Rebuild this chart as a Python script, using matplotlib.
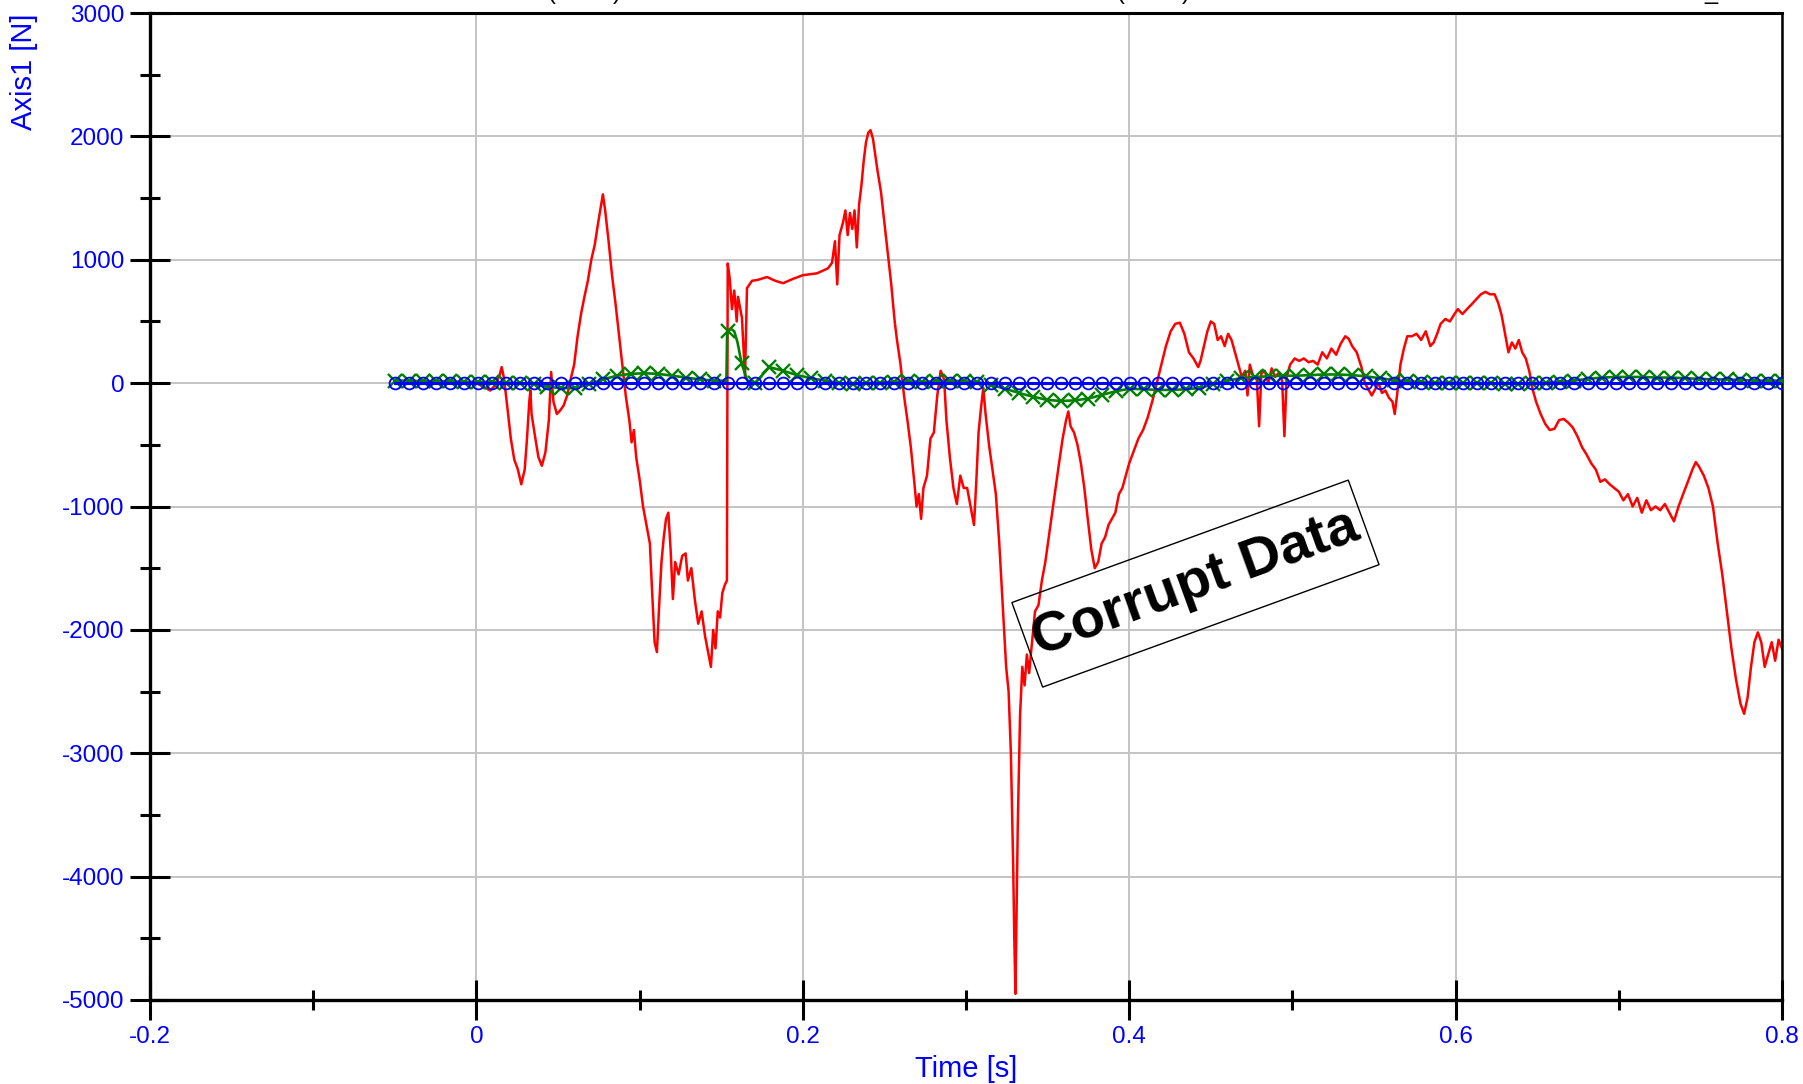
import matplotlib
matplotlib.use("Agg")
import matplotlib.pyplot as plt
from matplotlib.ticker import FixedLocator, FuncFormatter
from matplotlib.patches import Rectangle
from matplotlib.transforms import Affine2D

plt.rcParams['font.family'] = ['Liberation Sans', 'DejaVu Sans']
plt.rcParams['axes.unicode_minus'] = False

# ---------------- data ----------------
red_t = [0.0000, 0.0028, 0.0056, 0.0085, 0.0113, 0.0141, 0.0155, 0.0169, 0.0190, 0.0211,
         0.0232, 0.0254, 0.0275, 0.0296, 0.0310, 0.0324, 0.0331, 0.0338, 0.0359, 0.0380,
         0.0401, 0.0423, 0.0444, 0.0458, 0.0472, 0.0493, 0.0514, 0.0535, 0.0556, 0.0577,
         0.0599, 0.0620, 0.0641, 0.0662, 0.0683, 0.0704, 0.0725, 0.0746, 0.0761, 0.0775,
         0.0789, 0.0810, 0.0831, 0.0852, 0.0873, 0.0894, 0.0915, 0.0937, 0.0951, 0.0965,
         0.0979, 0.1000, 0.1021, 0.1042, 0.1063, 0.1077, 0.1092, 0.1106, 0.1120, 0.1134,
         0.1148, 0.1162, 0.1176, 0.1190, 0.1204, 0.1218, 0.1239, 0.1261, 0.1282, 0.1296,
         0.1317, 0.1338, 0.1359, 0.1380, 0.1401, 0.1423, 0.1437, 0.1451, 0.1465, 0.1479,
         0.1493, 0.1507, 0.1521, 0.1535, 0.1540, 0.1552, 0.1566, 0.1580, 0.1595, 0.1603,
         0.1627, 0.1646, 0.1658, 0.1689, 0.1719, 0.1781, 0.1830, 0.1879, 0.1940, 0.2001,
         0.2087, 0.2154, 0.2179, 0.2197, 0.2211, 0.2225, 0.2246, 0.2261, 0.2275, 0.2289,
         0.2303, 0.2317, 0.2331, 0.2345, 0.2359, 0.2373, 0.2387, 0.2401, 0.2415, 0.2430,
         0.2444, 0.2458, 0.2479, 0.2500, 0.2521, 0.2542, 0.2563, 0.2577, 0.2599, 0.2620,
         0.2641, 0.2662, 0.2683, 0.2697, 0.2711, 0.2725, 0.2739, 0.2761, 0.2782, 0.2803,
         0.2824, 0.2845, 0.2866, 0.2880, 0.2901, 0.2923, 0.2944, 0.2965, 0.2986, 0.3007,
         0.3028, 0.3049, 0.3063, 0.3077, 0.3092, 0.3106, 0.3120, 0.3141, 0.3162, 0.3183,
         0.3204, 0.3225, 0.3246, 0.3261, 0.3275, 0.3289, 0.3296, 0.3303, 0.3310, 0.3317,
         0.3331, 0.3345, 0.3359, 0.3373, 0.3387, 0.3401, 0.3423, 0.3444, 0.3465, 0.3486,
         0.3507, 0.3528, 0.3549, 0.3570, 0.3592, 0.3613, 0.3627, 0.3641, 0.3662, 0.3683,
         0.3704, 0.3725, 0.3746, 0.3768, 0.3789, 0.3810, 0.3831, 0.3852, 0.3873, 0.3894,
         0.3915, 0.3937, 0.3958, 0.3979, 0.4000, 0.4028, 0.4056, 0.4085, 0.4113, 0.4141,
         0.4169, 0.4197, 0.4225, 0.4254, 0.4282, 0.4310, 0.4338, 0.4366, 0.4394, 0.4423,
         0.4437, 0.4458, 0.4479, 0.4500, 0.4521, 0.4542, 0.4563, 0.4585, 0.4606, 0.4627,
         0.4648, 0.4669, 0.4690, 0.4711, 0.4725, 0.4739, 0.4761, 0.4782, 0.4796, 0.4810,
         0.4831, 0.4852, 0.4873, 0.4894, 0.4915, 0.4937, 0.4951, 0.4965, 0.4986, 0.5014,
         0.5042, 0.5070, 0.5099, 0.5127, 0.5155, 0.5183, 0.5211, 0.5239, 0.5268, 0.5296,
         0.5324, 0.5345, 0.5366, 0.5394, 0.5423, 0.5444, 0.5465, 0.5486, 0.5507, 0.5528,
         0.5549, 0.5570, 0.5592, 0.5613, 0.5627, 0.5641, 0.5662, 0.5683, 0.5704, 0.5732,
         0.5761, 0.5789, 0.5817, 0.5845, 0.5866, 0.5887, 0.5908, 0.5937, 0.5965, 0.5993,
         0.6014, 0.6042, 0.6070, 0.6099, 0.6127, 0.6155, 0.6183, 0.6211, 0.6239, 0.6261,
         0.6282, 0.6303, 0.6324, 0.6345, 0.6366, 0.6387, 0.6408, 0.6430, 0.6451, 0.6472,
         0.6493, 0.6521, 0.6549, 0.6577, 0.6606, 0.6634, 0.6662, 0.6690, 0.6718, 0.6746,
         0.6775, 0.6803, 0.6831, 0.6859, 0.6887, 0.6915, 0.6944, 0.6972, 0.7000, 0.7028,
         0.7056, 0.7085, 0.7113, 0.7141, 0.7169, 0.7197, 0.7225, 0.7254, 0.7282, 0.7310,
         0.7338, 0.7366, 0.7394, 0.7423, 0.7451, 0.7472, 0.7493, 0.7521, 0.7549, 0.7577,
         0.7606, 0.7634, 0.7662, 0.7690, 0.7718, 0.7746, 0.7768, 0.7789, 0.7810, 0.7831,
         0.7852, 0.7873, 0.7894, 0.7915, 0.7937, 0.7958, 0.7979, 0.8000]
red_v = [0, -20, -40, -60, -20, 60, 130, 40, -200, -450,
         -620, -700, -820, -700, -450, -150, -60, -250, -430, -600,
         -670, -560, -300, 90, -150, -250, -220, -180, -100, 30,
         150, 380, 560, 700, 830, 1000, 1120, 1300, 1420, 1530,
         1400, 1150, 875, 650, 400, 150, -100, -300, -480, -380,
         -600, -780, -1000, -1150, -1300, -1700, -2100, -2180, -1800, -1450,
         -1250, -1100, -1050, -1350, -1750, -1450, -1550, -1400, -1380, -1600,
         -1500, -1750, -1950, -1850, -2050, -2200, -2300, -2000, -2150, -1850,
         -1900, -1700, -1640, -1600, 970, 850, 600, 750, 500, 700,
         530, 50, 770, 830, 835, 860, 830, 810, 845, 875,
         890, 930, 975, 1150, 800, 1200, 1300, 1400, 1200, 1380,
         1250, 1400, 1100, 1450, 1600, 1800, 1950, 2030, 2050, 1980,
         1850, 1720, 1550, 1300, 1050, 800, 500, 350, 150, -100,
         -300, -520, -800, -1000, -900, -1100, -850, -750, -450, -400,
         -100, 100, 30, -300, -600, -850, -980, -750, -850, -850,
         -1000, -1150, -800, -400, -200, -40, -250, -500, -700, -900,
         -1300, -1800, -2300, -2500, -3000, -3900, -4500, -4950, -4300, -3600,
         -2700, -2300, -2450, -2200, -2350, -2150, -1850, -1800, -1600, -1450,
         -1250, -1050, -850, -650, -450, -300, -230, -350, -400, -500,
         -650, -850, -1100, -1350, -1500, -1450, -1300, -1250, -1150, -1100,
         -1050, -900, -850, -750, -650, -550, -450, -380, -280, -150,
         0, 150, 300, 420, 480, 490, 400, 250, 200, 130,
         180, 300, 420, 500, 480, 350, 380, 300, 400, 350,
         250, 150, 50, 100, -100, 150, 50, 30, -350, 80,
         100, 0, 120, 50, 80, 20, -430, 50, 150, 200,
         180, 200, 170, 180, 150, 250, 200, 280, 230, 320,
         380, 360, 300, 250, 130, 0, -50, -100, -50, 0,
         -80, -60, -120, -150, -250, -100, 150, 280, 380, 380,
         400, 350, 420, 300, 330, 400, 480, 520, 500, 560,
         600, 560, 600, 640, 680, 720, 740, 720, 720, 650,
         550, 400, 250, 330, 280, 350, 250, 200, 100, -50,
         -150, -250, -330, -380, -370, -300, -290, -320, -360, -430,
         -520, -580, -650, -700, -800, -780, -820, -850, -880, -950,
         -900, -1000, -930, -1050, -950, -1030, -1000, -1030, -980, -1050,
         -1120, -1000, -900, -800, -700, -640, -680, -750, -850, -1000,
         -1300, -1550, -1850, -2150, -2400, -2600, -2680, -2550, -2300, -2100,
         -2020, -2100, -2300, -2200, -2100, -2250, -2080, -2150]

# marker positions (shared by the green and blue series)
mark_t = [-0.0500, -0.0415, -0.0330, -0.0245, -0.0160, -0.0075, 0.0010, 0.0095, 0.0180, 0.0265,
          0.0350, 0.0435, 0.0520, 0.0605, 0.0690, 0.0775, 0.0860, 0.0945, 0.1030, 0.1115,
          0.1200, 0.1285, 0.1370, 0.1455, 0.1540, 0.1625, 0.1710, 0.1795, 0.1880, 0.1965,
          0.2050, 0.2135, 0.2220, 0.2305, 0.2390, 0.2475, 0.2560, 0.2645, 0.2730, 0.2815,
          0.2900, 0.2985, 0.3070, 0.3155, 0.3240, 0.3325, 0.3410, 0.3495, 0.3580, 0.3665,
          0.3750, 0.3835, 0.3920, 0.4005, 0.4090, 0.4175, 0.4260, 0.4345, 0.4430, 0.4515,
          0.4600, 0.4685, 0.4770, 0.4855, 0.4940, 0.5025, 0.5110, 0.5195, 0.5280, 0.5365,
          0.5450, 0.5535, 0.5620, 0.5705, 0.5790, 0.5875, 0.5960, 0.6045, 0.6130, 0.6215,
          0.6300, 0.6385, 0.6470, 0.6555, 0.6640, 0.6725, 0.6810, 0.6895, 0.6980, 0.7065,
          0.7150, 0.7235, 0.7320, 0.7405, 0.7490, 0.7575, 0.7660, 0.7745, 0.7830, 0.7915,
          0.8000]
green_v = [20, 20, 15, 15, 15, 10, 10, 10, 5, 0,
           -10, -30, -40, -40, -10, 30, 60, 75, 80, 75,
           60, 45, 30, 20, 420, 160, 5, 130, 100, 65,
           40, 20, 0, -10, 0, 5, 10, 15, 10, 15,
           20, 15, 10, -15, -45, -80, -110, -135, -145, -140,
           -125, -95, -65, -45, -50, -55, -55, -50, -40, -10,
           20, 40, 50, 55, 60, 60, 65, 70, 70, 65,
           55, 40, 25, 15, 10, 5, 5, 0, 0, 0,
           -5, -5, 0, 5, 10, 20, 35, 45, 50, 50,
           50, 45, 45, 40, 35, 30, 30, 25, 20, 20,
           20]
# extra samples of the green trace around its step (line only, no markers)
green_extra_t = [0.1532, 0.1536, 0.1560, 0.1580, 0.1600, 0.1660]
green_extra_v = [20, 380, 440, 420, 330, 20]
blue_v = [0, 0, 0, 0, 0, 0, 0, 0, 0, 0,
          0, 0, 0, 0, 0, 0, 0, 0, 0, 0,
          0, 0, 0, 0, 0, 0, 0, 0, 0, 0,
          0, 0, 0, 0, 0, 0, 0, 0, 0, 0,
          0, 0, 0, 0, 0, 0, 0, 0, 0, 0,
          0, 0, 0, 0, 0, 0, 0, 0, 0, 0,
          0, 0, 0, 0, 0, 0, 0, 0, 0, 0,
          0, 0, 0, 0, 0, 0, 0, 0, 0, 0,
          0, 0, 0, 0, 0, 0, 0, 0, 0, 0,
          0, 0, 0, 0, 0, 0, 0, 0, 0, 0,
          0]

x_ticks = [-0.2, 0.0, 0.2, 0.4, 0.6, 0.8]
x_minor = [-0.1, 0.1, 0.3, 0.5, 0.7]
y_ticks = [-5000, -4000, -3000, -2000, -1000, 0, 1000, 2000, 3000]
y_minor = [-4500, -3500, -2500, -1500, -500, 500, 1500, 2500]
x_label = "Time [s]"
y_label = "Axis1 [N]"
note = "Corrupt Data"
note_t, note_v = 0.4406, -1625

# ---------------- figure ----------------
W, H = 1803, 1084
fig = plt.figure(figsize=(W / 100, H / 100), dpi=100)
ax = fig.add_axes([150 / W, (H - 1000) / H, 1632 / W, 987 / H])

ax.plot(red_t, red_v, color='#ff0000', lw=1.8, zorder=2)

g_line = sorted(zip(mark_t + green_extra_t, green_v + green_extra_v))
ax.plot([p[0] for p in g_line], [p[1] for p in g_line], color='#008000', lw=1.9, zorder=3)
ax.plot(mark_t, green_v, ls='none', color='#008000', marker='x', ms=10.5, mew=1.7, zorder=3)
ax.plot(mark_t, blue_v, color='#0000ff', lw=2.2, marker='o', ms=8.5, mew=1.3,
        mfc='none', zorder=4)

ax.set_xlim(-0.2, 0.8)
ax.set_ylim(-5000, 3000)

ax.xaxis.set_major_locator(FixedLocator(x_ticks))
ax.xaxis.set_minor_locator(FixedLocator(x_minor))
ax.yaxis.set_major_locator(FixedLocator(y_ticks))
ax.yaxis.set_minor_locator(FixedLocator(y_minor))
ax.xaxis.set_major_formatter(FuncFormatter(lambda v, p: f"{v:g}"))
ax.yaxis.set_major_formatter(FuncFormatter(lambda v, p: f"{v:g}"))

ax.grid(True, which='major', color='#c4c4c4', lw=1.4, zorder=0)
ax.set_axisbelow(True)

ax.tick_params(which='major', direction='inout', length=29, width=2.2,
               color='black', labelcolor='#0000ff', labelsize=17.5, pad=4)
ax.tick_params(which='minor', direction='inout', length=14.5, width=2.2, color='black')
ax.tick_params(top=False, right=False, which='both')

for side, lw in [('left', 2.4), ('bottom', 2.4), ('top', 2.2), ('right', 1.8)]:
    ax.spines[side].set_linewidth(lw)
    ax.spines[side].set_color('black')

ax.set_xlabel(x_label, color='#0000ff', fontsize=21)
ax.xaxis.set_label_coords(0.5, -69 / 987)
ax.xaxis.label.set_va('center')

ax.set_ylabel(y_label, color='#0000ff', fontsize=21)
ax.yaxis.label.set_ha('right')
ax.yaxis.label.set_va('center')
ax.yaxis.set_label_coords((24 - 150) / 1632, 1.0)

# rotated "Corrupt Data" note with its frame
ax.text(note_t, note_v, note, rotation=20, rotation_mode='anchor',
        ha='center', va='center', fontsize=40.5, fontweight='bold', color='black',
        zorder=6)
cx, cy = ax.transData.transform((note_t, note_v))
frame = Rectangle((-179, -45), 358, 90, fill=False, ec='black', lw=1.0,
                  transform=Affine2D().rotate_deg(20).translate(cx, cy), zorder=6)
fig.add_artist(frame)

# cut-off fragments at the very top edge of the image
fig.text(584 / W, 1 + 1.5 / H, "(Axis1)", fontsize=17, ha='center', va='baseline')
fig.text(1153 / W, 1 + 1.5 / H, "(Axis1)", fontsize=17, ha='center', va='baseline')
fig.text(1711 / W, 1 + 0.5 / H, "_", fontsize=17, ha='center', va='baseline')

fig.savefig("out.png", dpi=100)
